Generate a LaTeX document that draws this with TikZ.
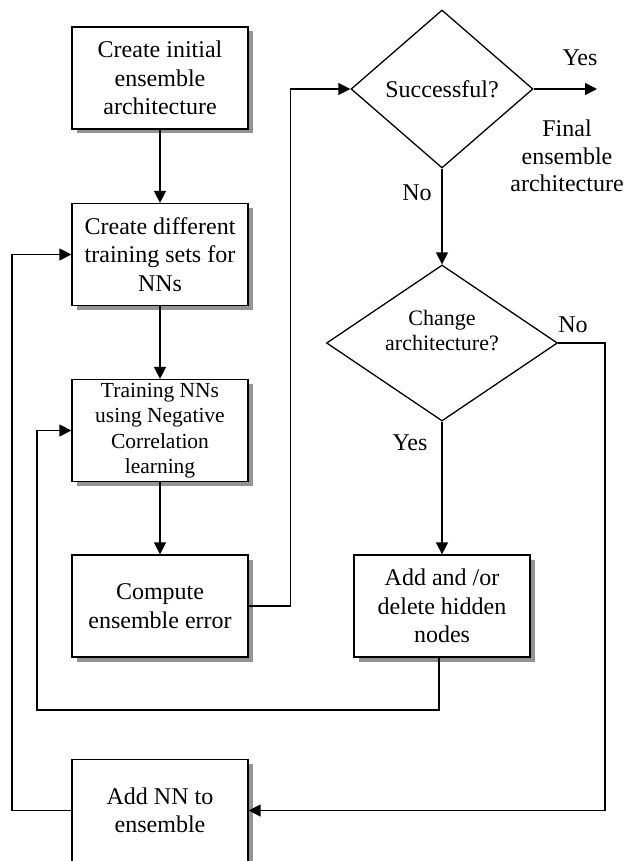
\documentclass[tikz,border=0pt]{standalone}
\usepackage{fontspec}
\setmainfont{Liberation Serif}
\usetikzlibrary{shapes.geometric,shadows,arrows.meta}
\begin{document}
\begin{tikzpicture}[x=1pt,y=-1pt,
  box/.style={draw=black, line width=1.3pt, fill=white, minimum width=176pt, minimum height=102pt, inner sep=0pt, align=center, font=\fontsize{24}{28.5}\selectfont, drop shadow={shadow xshift=4.5pt, shadow yshift=-4.5pt, fill=gray!85, opacity=1}},
  dia/.style={draw=black, line width=1.3pt, diamond, inner sep=0pt, align=center, font=\fontsize{24}{28}\selectfont},
  txt/.style={align=center, font=\fontsize{24}{27.5}\selectfont, inner sep=0pt},
  arr/.style={line width=1.5pt, -{Triangle[length=12pt,width=12pt]}},
  ln/.style={line width=1.2pt}]
\clip (0,0) rectangle (625,861);
\fill[white] (0,0) rectangle (625,861);
% boxes
\node[box] (b1) at (160,78) {Create initial\\ensemble\\architecture};
\node[box] (b2) at (160,254.5) {Create different\\training sets for\\NNs};
\node[box, font=\fontsize{21.5}{25.5}\selectfont] (b3) at (160,430.5) {Training NNs\\using Negative\\Correlation\\learning};
\node[box] (b4) at (160,606) {Compute\\ensemble error};
\node[box] (b5) at (442,606) {Add and /or\\delete hidden\\nodes};
\node[box] (b6) at (160,810.5) {Add NN to\\ensemble};
% decisions
\node[dia, minimum width=182pt, minimum height=158pt] (d1) at (442,89) {Successful?};
\node[dia, minimum width=231pt, minimum height=156pt] (d2) at (442,343) {};
\node[txt, font=\fontsize{22}{25}\selectfont] (d2t) at (442,331) {Change\\architecture?};
% labels
\node[txt] (yes1) at (580,58) {Yes};
\node[txt] (fin) at (567,156) {Final\\ensemble\\architecture};
\node[txt] (no1) at (417,193) {No};
\node[txt] (no2) at (573,325) {No};
\node[txt] (yes2) at (410,443) {Yes};
% coordinates
\coordinate (fe) at (597,89);
\coordinate (fb1) at (37,710);
\coordinate (fb2) at (12,0);
% connectors
\draw[arr] (b1.south) -- (b2.north);
\draw[arr] (b2.south) -- (b3.north);
\draw[arr] (b3.south) -- (b4.north);
\draw[arr] (b4.east) -- ++(42,0) |- (d1.west);
\draw[arr] (d1.east) -- (fe);
\draw[arr] (d1.south) -- (d2.north);
\draw[arr] (d2.south) -- (b5.north);
\draw[arr] (d2.east) -- ++(47,0) |- (b6.east);
\draw[arr] ([xshift=-3pt]b5.south) |- (fb1) |- (b3.west);
\draw[arr] (b6.west) -- (b6.west -| fb2) |- (b2.west);
\end{tikzpicture}
\end{document}
